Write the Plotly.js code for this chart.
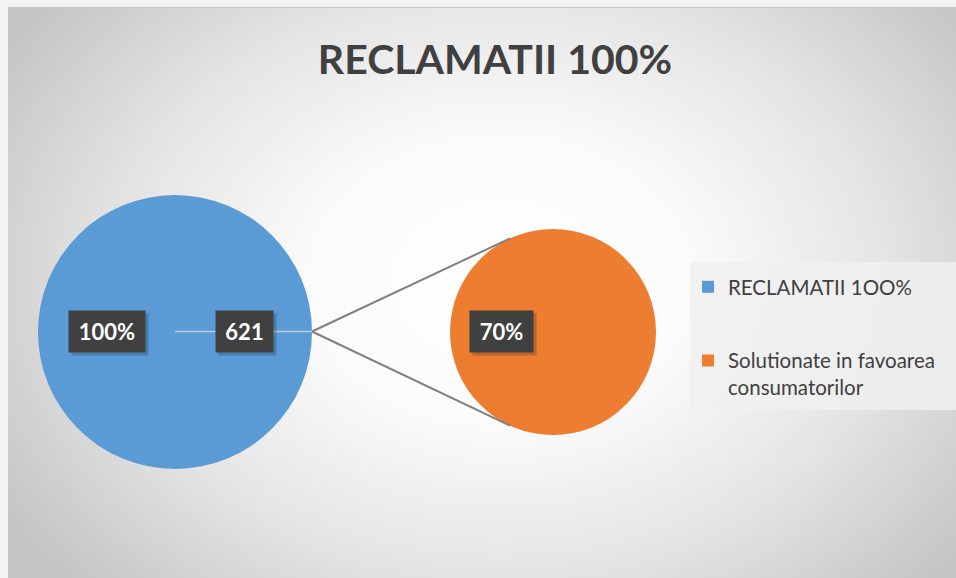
<!DOCTYPE html>
<html>
<head>
<meta charset="utf-8">
<script src="https://cdn.plot.ly/plotly-3.0.1.min.js"></script>
<style>
  html, body { margin: 0; padding: 0; width: 956px; height: 578px; overflow: hidden; background: #f4f4f4; }
  #bg { position: absolute; left: 8px; top: 7px; width: 948px; height: 571px;
        border-top: 1px solid #c6c6c6; box-sizing: border-box;
        background: radial-gradient(ellipse 62% 78% at 52% 48%, #ffffff 0%, #fbfbfb 32%, #e4e4e4 66%, #c4c4c4 100%); }
  #chart { position: absolute; left: 0; top: 0; width: 956px; height: 578px; }
</style>
</head>
<body>
<div id="bg"></div>
<div id="chart"></div>
<script>
// ---- data ----
const chartTitle = 'RECLAMATII 100%';
const categories = ['RECLAMATII 1OO%', 'Solutionate in favoarea<br>consumatorilor'];
const shares = [100, 70];          // percent
const totalComplaints = [621];     // count shown on main pie
const colors = ['#5B9BD5', '#ED7D31'];

const W = 956, H = 578;
// pie domains (paper fractions)
const domMain = {x: [38 / W, 312 / W], y: [(H - 469) / H, (H - 195) / H]};
const domSub  = {x: [450 / W, 656 / W], y: [(H - 435) / H, (H - 229) / H]};

const traces = [
  {
    type: 'pie', values: [shares[0]], labels: [categories[0]], domain: domMain,
    marker: {colors: [colors[0]], line: {width: 0}}, textinfo: 'none', sort: false,
    hoverinfo: 'label+value', legendgroup: 'a', showlegend: true
  },
  {
    type: 'pie', values: [shares[1]], labels: [categories[1]], domain: domSub,
    marker: {colors: [colors[1]], line: {width: 0}}, textinfo: 'none', sort: false,
    hoverinfo: 'label+value', legendgroup: 'b', showlegend: true
  }
];

// geometry derived from domains
function geom(d) {
  const x0 = d.x[0] * W, x1 = d.x[1] * W;
  const y0 = (1 - d.y[1]) * H, y1 = (1 - d.y[0]) * H;
  const r = Math.min(x1 - x0, y1 - y0) / 2;
  return {cx: (x0 + x1) / 2, cy: (y0 + y1) / 2, r: r};
}
const gm = geom(domMain), gs = geom(domSub);
const px = x => x / W, py = y => 1 - y / H;
const theta = Math.acos(-0.417);
const startX = gm.cx + gm.r, startY = gm.cy - 0.5;
const tTop = {x: gs.cx + gs.r * Math.cos(theta), y: gs.cy - gs.r * Math.sin(theta)};
const tBot = {x: gs.cx + gs.r * Math.cos(theta), y: gs.cy + gs.r * Math.sin(theta)};

const shapes = [
  // legend background panel
  {type: 'rect', xref: 'paper', yref: 'paper', layer: 'below', x0: px(690), x1: 1, y0: py(410), y1: py(262),
   fillcolor: 'rgba(240,240,240,0.85)', line: {width: 0}},
  {type: 'line', xref: 'paper', yref: 'paper', x0: px(gm.cx), y0: py(startY), x1: px(startX), y1: py(startY),
   line: {color: 'rgba(215,222,230,0.75)', width: 1.5}},
  {type: 'line', xref: 'paper', yref: 'paper', x0: px(startX), y0: py(startY), x1: px(tTop.x), y1: py(tTop.y),
   line: {color: '#808080', width: 2}},
  {type: 'line', xref: 'paper', yref: 'paper', x0: px(startX), y0: py(startY), x1: px(tBot.x), y1: py(tBot.y),
   line: {color: '#808080', width: 2}}
];

// data labels
const labelDefs = [
  {text: shares[0] + '%', x: gm.cx - 68, w: 66},
  {text: String(totalComplaints[0]), x: gm.cx + 69.5, w: 47},
  {text: shares[1] + '%', x: gs.cx - 51.5, w: 53}
];
const annotations = [];
labelDefs.forEach(l => {
  const base = {xref: 'paper', yref: 'paper', x: px(l.x), y: py(331.5), xanchor: 'center', yanchor: 'middle',
    showarrow: false, width: l.w, height: 31, borderpad: 5};
  annotations.push(Object.assign({}, base, {text: ' ', bgcolor: 'rgba(0,0,0,0.2)', xshift: 3, yshift: -3,
    font: {size: 22, family: 'Lato'}}));
  annotations.push(Object.assign({}, base, {text: '<b>' + l.text + '</b>', bgcolor: '#404040',
    font: {size: 22, family: 'Lato', color: '#ffffff'}}));
});

const layout = {
  width: W, height: H,
  margin: {l: 0, r: 0, t: 0, b: 0},
  paper_bgcolor: 'rgba(0,0,0,0)', plot_bgcolor: 'rgba(0,0,0,0)',
  title: {text: '<b>' + chartTitle + '</b>', x: 495 / W, xanchor: 'center', y: py(60), yanchor: 'middle',
          font: {family: 'Lato', size: 41, color: '#404040'}},
  showlegend: true,
  legend: {x: 688 / W, xanchor: 'left', y: py(267), yanchor: 'top', bgcolor: 'rgba(0,0,0,0)',
           font: {family: 'Lato', size: 20.5, color: '#404040'}, tracegroupgap: 44, traceorder: 'grouped',
           valign: 'top'},
  shapes: shapes,
  annotations: annotations
};

Plotly.newPlot('chart', traces, layout, {displayModeBar: false, staticPlot: true});
</script>
</body>
</html>
